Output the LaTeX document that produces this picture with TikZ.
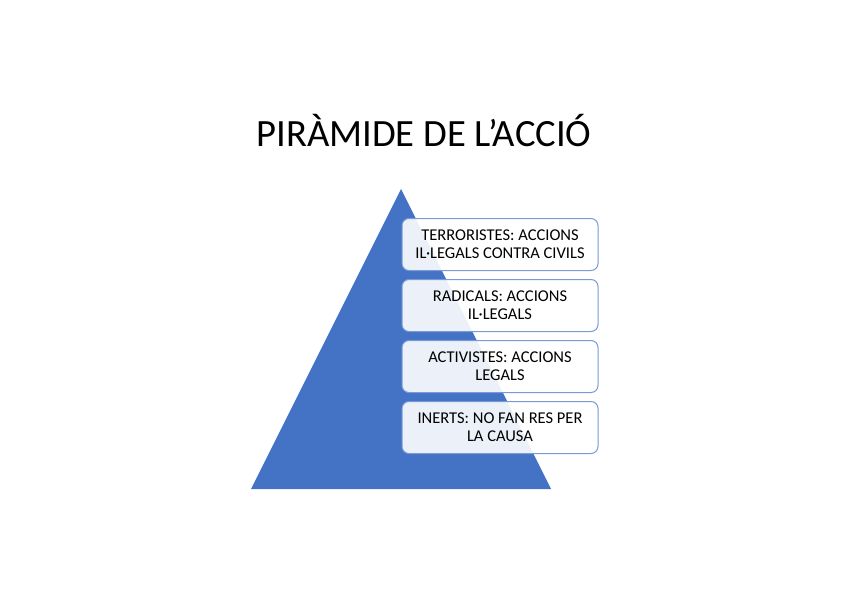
\documentclass[tikz,border=0pt]{standalone}
\usepackage{fontspec}
\setmainfont{Carlito}
\usetikzlibrary{positioning}
\definecolor{pyrblue}{RGB}{68,114,196}
\definecolor{edgeblue}{RGB}{122,154,214}

\begin{document}
\begin{tikzpicture}[x=1pt, y=-1pt,
  level/.style={draw=edgeblue, fill=white, fill opacity=0.9, text opacity=1, rounded corners=7pt,
                line width=1pt, align=center, minimum width=196pt, minimum height=52pt,
                inner sep=2pt, font=\fontsize{16.5}{18}\selectfont},
  heading/.style={font=\fontsize{38.6}{44}\selectfont, inner sep=0pt}]
\useasboundingbox (0,0) rectangle (848,599);
\node[heading] (title) at (424,131) {PIRÀMIDE DE L’ACCIÓ};
% pyramid
\fill[pyrblue] (251,489) -- (401,189) -- (551,489) -- cycle;
\node[level] (terr) at (500,244.5) {TERRORISTES: ACCIONS\\IL·LEGALS CONTRA CIVILS};
\node[level, below=8pt of terr] (rad) {RADICALS: ACCIONS\\IL·LEGALS};
\node[level, below=8pt of rad] (act) {ACTIVISTES: ACCIONS\\LEGALS};
\node[level, below=8pt of act] (inert) {INERTS: NO FAN RES PER\\LA CAUSA};
\end{tikzpicture}
\end{document}
